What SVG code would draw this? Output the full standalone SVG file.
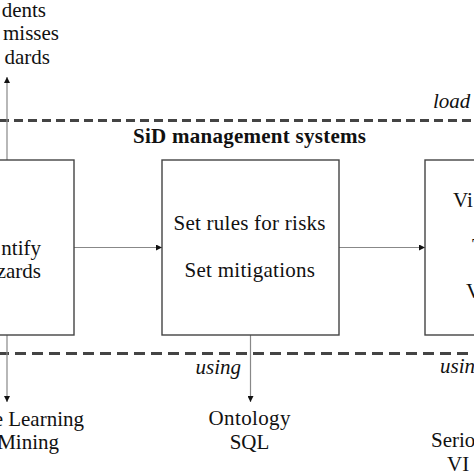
<svg xmlns="http://www.w3.org/2000/svg" width="474" height="474" viewBox="0 0 474 474">
<style>
  .t { font-family: "Liberation Serif", "Times New Roman", serif; font-size: 21px; fill: #111; }
  .i { font-style: italic; }
  .b { font-weight: bold; }
  .box { fill: #fff; stroke: #444; stroke-width: 1.4; }
  .dash { stroke: #444; stroke-width: 3; fill: none; }
  .con { stroke: #888; stroke-width: 1.2; fill: none; }
</style>
<defs>
  <marker id="ah" viewBox="0 0 10 10" refX="10" refY="5" markerWidth="6" markerHeight="6" markerUnits="userSpaceOnUse" orient="auto">
    <path d="M0,0 L10,5 L0,10 z" fill="#111"/>
  </marker>
</defs>
<rect width="474" height="474" fill="#fff"/>

<g id="boundaries">
  <line class="dash" x1="0" y1="120.5" x2="474" y2="120.5" stroke-dasharray="9 5"/>
  <line class="dash" x1="0" y1="353.5" x2="474" y2="353.5" stroke-dasharray="11 6" stroke-dashoffset="2"/>
  <text class="t b" x="133" y="142.5" textLength="233" lengthAdjust="spacing">SiD management systems</text>
  <text class="t i" x="433" y="107.5">load i</text>
</g>

<g id="connectors">
  <line class="con" x1="7" y1="160" x2="7" y2="77" marker-end="url(#ah)"/>
  <line class="con" x1="7" y1="335" x2="7" y2="402" marker-end="url(#ah)"/>
  <line class="con" x1="250.5" y1="335" x2="250.5" y2="402" marker-end="url(#ah)"/>
  <line class="con" x1="74" y1="247.5" x2="162" y2="247.5" marker-end="url(#ah)"/>
  <line class="con" x1="339" y1="247.5" x2="425" y2="247.5" marker-end="url(#ah)"/>
</g>

<g id="node-identify">
  <rect class="box" x="-110" y="160" width="184" height="175"/>
  <text class="t" x="41" y="255" text-anchor="end">ntify</text>
  <text class="t" x="41" y="277.5" text-anchor="end">zards</text>
</g>

<g id="node-rules">
  <rect class="box" x="162" y="160" width="177" height="175"/>
  <text class="t" x="173.5" y="230" textLength="152" lengthAdjust="spacing">Set rules for risks</text>
  <text class="t" x="184.5" y="276.5" textLength="130.5" lengthAdjust="spacing">Set mitigations</text>
</g>

<g id="node-visualize">
  <rect class="box" x="425" y="160" width="180" height="175"/>
  <text class="t" x="453" y="207">Vi</text>
  <text class="t" x="472" y="253">T</text>
  <text class="t" x="466" y="298">V</text>
</g>

<g id="node-outputs-top">
  <text class="t" x="46" y="17" text-anchor="end">dents</text>
  <text class="t" x="59" y="40" text-anchor="end">misses</text>
  <text class="t" x="50" y="63.5" text-anchor="end">dards</text>
</g>

<g id="node-tools-left">
  <text class="t" x="84" y="426" text-anchor="end">e Learning</text>
  <text class="t" x="59" y="449" text-anchor="end">Mining</text>
</g>

<g id="node-tools-middle">
  <text class="t i" x="241" y="374" text-anchor="end">using</text>
  <text class="t" x="249.5" y="425" text-anchor="middle" textLength="82" lengthAdjust="spacing">Ontology</text>
  <text class="t" x="249.5" y="449" text-anchor="middle">SQL</text>
</g>

<g id="node-tools-right">
  <text class="t i" x="440" y="373">usin</text>
  <text class="t" x="431" y="447">Serio</text>
  <text class="t" x="447" y="471">VI</text>
</g>
</svg>
